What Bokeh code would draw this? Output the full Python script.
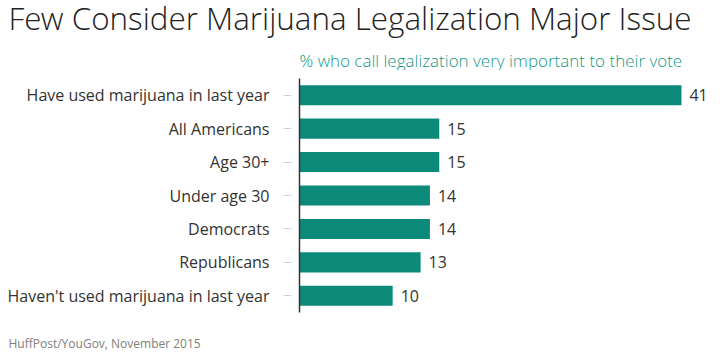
from bokeh.plotting import figure
from bokeh.models import ColumnDataSource, Label
from bokeh.layouts import column
from bokeh.core.properties import value
from bokeh.embed import file_html
from bokeh.resources import INLINE

categories = ["Have used marijuana in last year", "All Americans", "Age 30+",
              "Under age 30", "Democrats", "Republicans",
              "Haven't used marijuana in last year"]
values = [41, 15, 15, 14, 14, 13, 10]
value_labels = [str(v) for v in values]

title_text = "Few Consider Marijuana Legalization Major Issue"
subtitle_text = "% who call legalization very important to their vote"
source_text = "HuffPost/YouGov, November 2015"

FONT = "Open Sans"
LIGHT = "'Open Sans Light', 'Open Sans'"
BAR = "#0b8a7a"
TEAL_TEXT = "#169886"
W = 720
HEAD_H = 70
FOOT_H = 24
MAIN_H = 357 - HEAD_H - FOOT_H


def blank(h):
    f = figure(width=W, height=h, x_range=(0, W), y_range=(h, 0),
               output_backend="svg", toolbar_location=None, title=None,
               min_border=0, min_border_left=0, min_border_right=0,
               min_border_top=0, min_border_bottom=0, frame_align=False)
    f.axis.visible = False
    f.grid.visible = False
    f.outline_line_color = None
    f.background_fill_color = "white"
    f.border_fill_color = "white"
    return f


head = blank(HEAD_H)
head.add_layout(Label(x=8, y=17, text=title_text, text_font=LIGHT,
                      text_font_size="31.4px", text_color="#222222",
                      text_baseline="alphabetic", text_align="left"))
head.add_layout(Label(x=299, y=59.5, text=subtitle_text, text_font=LIGHT,
                      text_font_size="17px", text_color=TEAL_TEXT,
                      text_baseline="alphabetic", text_align="left"))

src = ColumnDataSource(dict(cat=categories, val=values, lab=value_labels))

p = figure(width=W, height=MAIN_H, y_range=list(reversed(categories)),
           x_range=(0, 45.19), output_backend="svg", toolbar_location=None,
           min_border_left=299, min_border_right=0, min_border_top=8,
           min_border_bottom=MAIN_H - 8 - 234, title=None, frame_align=False)
p.outline_line_color = None
p.background_fill_color = "white"
p.border_fill_color = "white"
p.xgrid.visible = False
p.ygrid.visible = False
p.xaxis.visible = False

p.hbar(y="cat", right="val", left=0, height=0.6, source=src,
       fill_color=BAR, line_color=None)
p.text(x="val", y="cat", text="lab", source=src, x_offset=8,
       text_baseline="middle", text_align="left", text_font=value(FONT),
       text_font_size="16px", text_color="#333333")

ya = p.yaxis[0]
ya.axis_line_color = "#333333"
ya.axis_line_width = 1.5
ya.major_tick_in = -8
ya.major_tick_out = 16
ya.major_tick_line_color = "#d0d0d0"
ya.minor_tick_line_color = None
ya.major_label_standoff = 14
ya.major_label_text_font = FONT
ya.major_label_text_font_size = "16px"
ya.major_label_text_color = "#333333"

foot = blank(FOOT_H)
foot.add_layout(Label(x=8, y=10, text=source_text, text_font=FONT,
                      text_font_size="12px", text_color="#808080",
                      text_baseline="alphabetic", text_align="left"))

layout = column(head, p, foot, spacing=0)
open("out.html", "w").write(file_html(layout, INLINE))
